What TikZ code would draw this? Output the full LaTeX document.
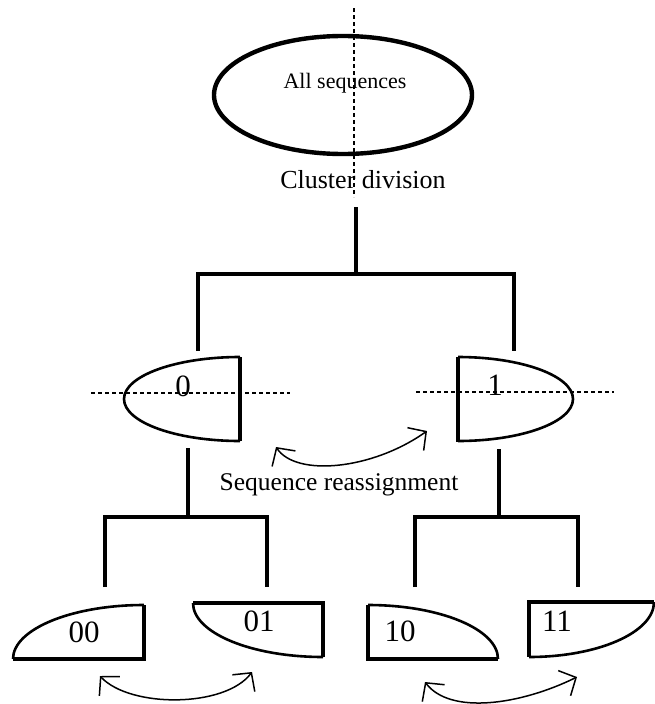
\documentclass[tikz,border=0pt]{standalone}
\usepackage{fontspec}
\setmainfont{Liberation Serif}
\usetikzlibrary{arrows.meta}
\begin{document}
\begin{tikzpicture}[x=1pt,y=-1pt,
  tree/.style={line width=3.6pt,line join=miter},
  flat/.style={line width=3.6pt},
  curve/.style={line width=2.6pt},
  guide/.style={line width=1.1pt,dash pattern=on 4pt off 3pt},
  swap/.style={line width=1.5pt,{Straight Barb[length=13pt,width=28pt]}-{Straight Barb[length=13pt,width=28pt]}},
  lbl/.style={inner sep=0pt,anchor=base}]
\useasboundingbox (0,0) rectangle (655,704);
% root
\draw[line width=4.4pt] (343,95) ellipse [x radius=129, y radius=59];
\node[lbl,font=\fontsize{22}{26}\selectfont] (root) at (345,88) {All sequences};
\draw[guide] (354,8) -- (354,197);
\node[lbl,font=\fontsize{26}{30}\selectfont] (cd) at (363,188) {Cluster division};
% level-1 tree
\coordinate (t0) at (356,207);
\coordinate (s0) at (356,274);
\coordinate (c0) at (198,351);
\coordinate (c1) at (514,351);
\draw[tree] (t0) -- (s0);
\draw[tree] (c0) |- (s0) -| (c1);
% node 0
\draw[curve] (240,357) arc[start angle=-90, end angle=-270, x radius=116, y radius=42];
\draw[flat] (240,357) -- (240,441);
\node[lbl,font=\fontsize{31}{34}\selectfont] (n0) at (183,396) {0};
\draw[guide] (91,393) -- (290,393);
% node 1
\draw[curve] (458,357) arc[start angle=-90, end angle=90, x radius=115, y radius=42];
\draw[flat] (458,357) -- (458,442);
\node[lbl,font=\fontsize{31}{34}\selectfont] (n1) at (495,395) {1};
\draw[guide] (416,392) -- (614,392);
% reassignment
\coordinate (ra) at (276,447);
\coordinate (rb) at (427,431);
\draw[swap] (ra) .. controls (296,477) and (372,470) .. (rb);
\node[lbl,font=\fontsize{25.5}{30}\selectfont] (sr) at (339,490) {Sequence reassignment};
% level-2 trees
\coordinate (t00) at (188,448);
\coordinate (s00) at (188,517);
\coordinate (c00) at (105,587);
\coordinate (c01) at (267,587);
\draw[tree] (t00) -- (s00);
\draw[tree] (c00) |- (s00) -| (c01);
\coordinate (t10) at (499,449);
\coordinate (s10) at (499,517);
\coordinate (c10) at (415,587);
\coordinate (c11) at (578,587);
\draw[tree] (t10) -- (s10);
\draw[tree] (c10) |- (s10) -| (c11);
% node 00
\draw[curve] (13,659) arc[start angle=180, end angle=270, x radius=131, y radius=54];
\draw[flat] (144,605) -- (144,659) -- (13,659);
\node[lbl,font=\fontsize{31}{34}\selectfont] (n00) at (84,642) {00};
% node 01
\draw[curve] (193,603) arc[start angle=180, end angle=90, x radius=130, y radius=54];
\draw[flat] (193,603) -- (323,603) -- (323,657);
\node[lbl,font=\fontsize{31}{34}\selectfont] (n01) at (259,631) {01};
% node 10
\draw[curve] (368,605) arc[start angle=-90, end angle=0, x radius=130, y radius=54];
\draw[flat] (368,605) -- (368,659) -- (498,659);
\node[lbl,font=\fontsize{31}{34}\selectfont] (n10) at (400,641) {10};
% node 11
\draw[curve] (654,602) arc[start angle=0, end angle=90, x radius=125, y radius=55];
\draw[flat] (654,602) -- (529,602) -- (529,657);
\node[lbl,font=\fontsize{31}{34}\selectfont] (n11) at (557,631) {11};
% bottom swaps
\coordinate (la) at (100,676);
\coordinate (lb) at (252,672);
\draw[swap] (la) .. controls (130,708) and (225,708) .. (lb);
\coordinate (rra) at (425,682);
\coordinate (rrb) at (577,677);
\draw[swap] (rra) .. controls (450,715) and (520,705) .. (rrb);
\end{tikzpicture}
\end{document}
